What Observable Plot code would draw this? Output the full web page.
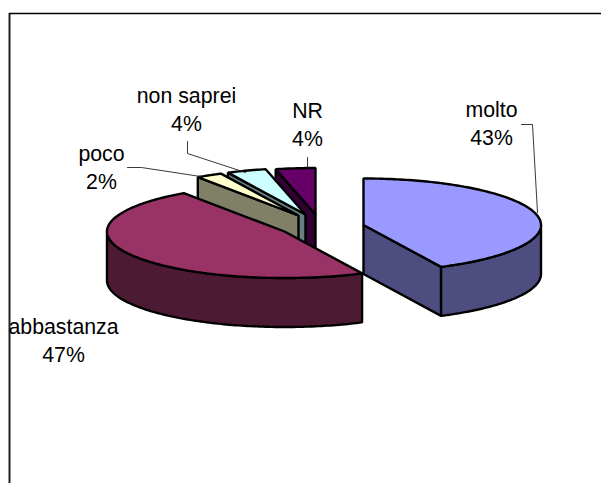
<!DOCTYPE html>
<html>
<head>
<meta charset="utf-8">
<script src="https://cdn.jsdelivr.net/npm/d3@7"></script>
<script src="https://cdn.jsdelivr.net/npm/@observablehq/plot@0.6"></script>
<style>html,body{margin:0;padding:0;background:#fff}svg{display:block}</style>
</head>
<body>
<script>
const categories = ["molto", "abbastanza", "poco", "non saprei", "NR"];
const shares = [42.8, 47.6, 2.4, 3.6, 3.6];
const shareLabels = ["43%", "47%", "2%", "4%", "4%"];
const topColors = ["#9999ff", "#993366", "#ffffcc", "#ccffff", "#660066"];
const sideColors = ["#4d4d80", "#4d1a33", "#808066", "#668080", "#330033"];

// Scene geometry (exploded 3D pie)
const radiusX = 177.5, radiusY = 46.5, depth = 49;
const centers = [[363, 224.5], [284, 231], [298, 215], [305, 214], [315, 214]];
const labelAt = [[491, 109], [63, 326], [101, 153], [186, 95], [307, 110]];
const leaders = [
  [[521, 124], [532, 124], [537, 212]],
  [[127, 167], [141, 167], [200, 176]],
  [[187, 141], [187, 153], [245, 172]],
  [[307, 157], [307, 168]]
];

const rad = d => d * Math.PI / 180;
const total = d3.sum(shares);
let run = 0;
const slices = categories.map((name, i) => {
  const a0 = run / total * 360;
  run += shares[i];
  const a1 = run / total * 360;
  return {name, i, a0, a1, c: centers[i]};
});
const at = (s, a, dz = 0) => [
  s.c[0] + radiusX * Math.sin(rad(a)),
  s.c[1] - radiusY * Math.cos(rad(a)) + dz
];
const arc = (s, a0, a1, dz = 0) => {
  const n = Math.max(2, Math.ceil(Math.abs(a1 - a0)));
  return d3.range(n + 1).map(k => at(s, a0 + (a1 - a0) * k / n, dz));
};
const poly = (pts, fill) => Plot.line(pts, {
  x: d => d[0], y: d => d[1], fill, stroke: "#000", strokeWidth: 2.4,
  curve: "linear-closed", strokeLinejoin: "miter"
});

const sliceMarks = s => {
  const marks = [];
  const side = sideColors[s.i];
  const down = ([x, y]) => [x, y + depth];
  if (Math.sin(rad(s.a0)) < -1e-6) {
    const e = at(s, s.a0);
    marks.push(poly([s.c, e, down(e), down(s.c)], side));
  }
  if (Math.sin(rad(s.a1)) > 1e-6) {
    const e = at(s, s.a1);
    marks.push(poly([s.c, e, down(e), down(s.c)], side));
  }
  const w0 = Math.max(s.a0, 90), w1 = Math.min(s.a1, 270);
  if (w1 > w0) {
    marks.push(poly([...arc(s, w0, w1), ...arc(s, w1, w0, depth)], side));
  }
  marks.push(poly([s.c, ...arc(s, s.a0, s.a1)], topColors[s.i]));
  return marks;
};

const order = [4, 3, 2, 1, 0];
const labels = slices.map(s => ({
  text: s.name + "\n" + shareLabels[s.i],
  x: labelAt[s.i][0], y: labelAt[s.i][1]
}));

const plot = Plot.plot({
  width: 601, height: 483,
  margin: 0,
  x: {domain: [0, 601], range: [0, 601], axis: null},
  y: {domain: [0, 483], range: [0, 483], axis: null},
  style: {background: "#fff"},
  marks: [
    Plot.ruleX([9], {y1: 13, y2: 483, stroke: "#222", strokeWidth: 2}),
    Plot.ruleY([13], {x1: 9, x2: 601, stroke: "#000", strokeWidth: 1.5}),
    ...order.flatMap(i => sliceMarks(slices[i])),
    ...leaders.map(l => Plot.line(l, {x: d => d[0], y: d => d[1], stroke: "#222", strokeWidth: 0.9})),
    Plot.text(labels, {
      x: "x", y: "y", text: "text", lineAnchor: "top",
      fontFamily: "Liberation Sans", fontSize: 21.3, lineHeight: 1.31, fill: "#000", textAnchor: "middle",
      dy: -12
    })
  ]
});
document.body.appendChild(plot);
</script>
</body>
</html>
